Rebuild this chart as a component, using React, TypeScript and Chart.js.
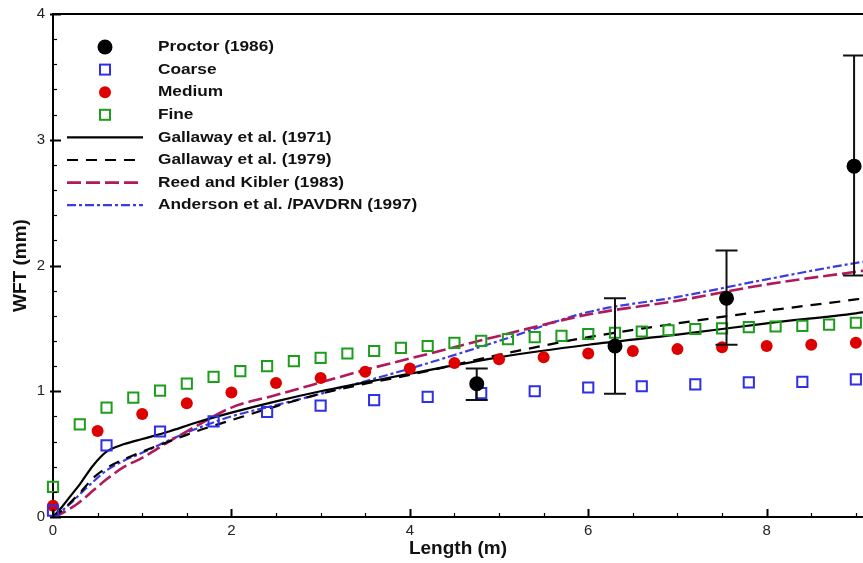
import React, { useEffect, useRef } from "react";
import { Chart, registerables } from "chart.js";

Chart.register(...registerables);

const FONT = '"Liberation Sans", Arial, Helvetica, sans-serif';

// Axes
const X_MIN = 0;
const X_MAX = 9.08;
const Y_MIN = 0;
const Y_MAX = 4;
const X_TICKS = [0, 2, 4, 6, 8];
const Y_TICKS = [0, 1, 2, 3, 4];
const X_MINOR_STEP = 0.5;
const Y_MINOR_STEP = 0.2;

// Proctor (1986) measurements with error bars
const PROCTOR_X = [4.75, 6.3, 7.55, 8.98];
const PROCTOR_Y = [1.06, 1.36, 1.74, 2.79];
const PROCTOR_LOW = [0.93, 0.98, 1.37, 1.92];
const PROCTOR_HIGH = [1.18, 1.74, 2.12, 3.67];

// Coarse
const COARSE_X = [0, 0.6, 1.2, 1.8, 2.4, 3.0, 3.6, 4.2, 4.8, 5.4, 6.0, 6.6, 7.2, 7.8, 8.4, 9.0];
const COARSE_Y = [0.05, 0.57, 0.68, 0.76, 0.835, 0.885, 0.93, 0.955, 0.985, 1.0, 1.03, 1.04, 1.055, 1.07, 1.075, 1.095];

// Medium
const MEDIUM_X = [0, 0.5, 1.0, 1.5, 2.0, 2.5, 3.0, 3.5, 4.0, 4.5, 5.0, 5.5, 6.0, 6.5, 7.0, 7.5, 8.0, 8.5, 9.0];
const MEDIUM_Y = [0.09, 0.683, 0.82, 0.905, 0.99, 1.065, 1.105, 1.155, 1.18, 1.225, 1.255, 1.27, 1.3, 1.32, 1.335, 1.35, 1.36, 1.37, 1.385];

// Fine
const FINE_X = [0, 0.3, 0.6, 0.9, 1.2, 1.5, 1.8, 2.1, 2.4, 2.7, 3.0, 3.3, 3.6, 3.9, 4.2, 4.5, 4.8, 5.1, 5.4, 5.7, 6.0, 6.3, 6.6, 6.9, 7.2, 7.5, 7.8, 8.1, 8.4, 8.7, 9.0];
const FINE_Y = [0.24, 0.737, 0.87, 0.95, 1.005, 1.06, 1.115, 1.16, 1.2, 1.24, 1.265, 1.3, 1.32, 1.345, 1.36, 1.385, 1.4, 1.415, 1.43, 1.44, 1.455, 1.465, 1.475, 1.485, 1.495, 1.5, 1.51, 1.515, 1.52, 1.53, 1.545];

// Model curves
const CURVE_X = [0, 0.1, 0.2, 0.3, 0.45, 0.6, 0.8, 1.0, 1.3, 1.6, 2.0, 2.5, 3.0, 3.5, 4.0, 5.0, 6.0, 7.0, 8.0, 9.0, 9.1];
const GALLAWAY_1971 = [0, 0.08, 0.17, 0.26, 0.41, 0.52, 0.58, 0.62, 0.68, 0.75, 0.83, 0.92, 1.0, 1.07, 1.14, 1.27, 1.37, 1.45, 1.54, 1.62, 1.63];
const GALLAWAY_1979 = [0, 0.05, 0.12, 0.19, 0.31, 0.39, 0.46, 0.52, 0.6, 0.68, 0.77, 0.88, 0.98, 1.06, 1.13, 1.29, 1.43, 1.54, 1.64, 1.73, 1.74];
const REED_KIBLER = [0, 0.03, 0.07, 0.12, 0.21, 0.3, 0.4, 0.47, 0.6, 0.72, 0.87, 0.97, 1.07, 1.17, 1.26, 1.44, 1.61, 1.72, 1.85, 1.95, 1.96];
const ANDERSON = [0, 0.05, 0.11, 0.18, 0.28, 0.37, 0.45, 0.51, 0.61, 0.7, 0.8, 0.89, 0.98, 1.08, 1.18, 1.4, 1.63, 1.75, 1.89, 2.02, 2.03];

const LABELS = [
  "Proctor (1986)",
  "Coarse",
  "Medium",
  "Fine",
  "Gallaway et al. (1971)",
  "Gallaway et al. (1979)",
  "Reed and Kibler (1983)",
  "Anderson et al. /PAVDRN (1997)",
];

const C_BLACK = "#000000";
const C_BLUE_SQ = "#2f2fe6";
const C_RED = "#dd0000";
const C_GREEN = "#1c9e1c";
const C_CRIMSON = "#b0195a";
const C_BLUE_LINE = "#3b3be4";

function pts(xs: number[], ys: number[]) {
  return xs.map((x, i) => ({ x, y: ys[i] }));
}

const framePlugin = {
  id: "frame",
  afterDraw(chart: any) {
    const { ctx, chartArea, scales } = chart;
    const xs = scales.x;
    const ys = scales.y;
    ctx.save();
    ctx.strokeStyle = "#000";
    ctx.lineWidth = 2;
    ctx.beginPath();
    ctx.moveTo(chartArea.left, chartArea.top);
    ctx.lineTo(chart.width, chartArea.top);
    ctx.stroke();
    for (let k = 0; X_MIN + k * X_MINOR_STEP <= X_MAX + 1e-9; k++) {
      const v = X_MIN + k * X_MINOR_STEP;
      const major = X_TICKS.some((t) => Math.abs(t - v) < 1e-6);
      const px = Math.round(xs.getPixelForValue(v)) + 0.5;
      ctx.lineWidth = major ? 2 : 1.2;
      ctx.beginPath();
      ctx.moveTo(px, chartArea.bottom);
      ctx.lineTo(px, chartArea.bottom - (major ? 8 : 4));
      ctx.stroke();
    }
    for (let k = 0; Y_MIN + k * Y_MINOR_STEP <= Y_MAX + 1e-9; k++) {
      const v = Y_MIN + k * Y_MINOR_STEP;
      const major = Y_TICKS.some((t) => Math.abs(t - v) < 1e-6);
      const py = Math.round(ys.getPixelForValue(v)) + 0.5;
      ctx.lineWidth = major ? 2 : 1.2;
      ctx.beginPath();
      ctx.moveTo(chartArea.left - (major ? 3 : 0), py);
      ctx.lineTo(chartArea.left + (major ? 8 : 4), py);
      ctx.stroke();
    }
    ctx.restore();
  },
};

const errorBarPlugin = {
  id: "errorBars",
  beforeDatasetDraw(chart: any, args: any) {
    if (args.index !== 0) return;
    const { ctx, scales } = chart;
    ctx.save();
    ctx.strokeStyle = "#111";
    ctx.lineWidth = 2;
    PROCTOR_X.forEach((xv, i) => {
      const px = scales.x.getPixelForValue(xv);
      const pLo = scales.y.getPixelForValue(PROCTOR_LOW[i]);
      const pHi = scales.y.getPixelForValue(PROCTOR_HIGH[i]);
      const cap = 11;
      ctx.beginPath();
      ctx.moveTo(px, pLo);
      ctx.lineTo(px, pHi);
      ctx.moveTo(px - cap, pLo);
      ctx.lineTo(px + cap, pLo);
      ctx.moveTo(px - cap, pHi);
      ctx.lineTo(px + cap, pHi);
      ctx.stroke();
    });
    ctx.restore();
  },
};

const legendPlugin = {
  id: "customLegend",
  afterDraw(chart: any) {
    const { ctx } = chart;
    const rowY0 = 47;
    const rowH = 22.6;
    const markX = 105;
    const lineX0 = 67;
    const lineX1 = 143;
    const textX = 158;
    ctx.save();
    chart.data.datasets.forEach((ds: any, i: number) => {
      const y = rowY0 + i * rowH;
      if (ds.showLine) {
        ctx.strokeStyle = ds.borderColor;
        ctx.lineWidth = ds.borderWidth;
        ctx.setLineDash(ds.borderDash || []);
        ctx.beginPath();
        ctx.moveTo(lineX0, y);
        ctx.lineTo(lineX1, y);
        ctx.stroke();
        ctx.setLineDash([]);
      } else if (ds.pointStyle === "rect") {
        ctx.strokeStyle = ds.pointBorderColor;
        ctx.lineWidth = 2;
        ctx.strokeRect(markX - 5, y - 5, 10, 10);
      } else {
        ctx.fillStyle = ds.pointBackgroundColor;
        ctx.beginPath();
        ctx.arc(markX, y, ds.pointRadius, 0, Math.PI * 2);
        ctx.fill();
      }
      ctx.save();
      ctx.translate(textX, y);
      ctx.scale(1.15, 1);
      ctx.fillStyle = "#111";
      ctx.font = `bold 15px ${FONT}`;
      ctx.textBaseline = "middle";
      ctx.textAlign = "left";
      ctx.fillText(ds.label, 0, 0);
      ctx.restore();
    });
    ctx.restore();
  },
};

export default function App() {
  const ref = useRef<HTMLCanvasElement | null>(null);

  useEffect(() => {
    if (!ref.current) return;
    Chart.defaults.font.family = FONT;
    const scatterBase = { showLine: false, clip: false as any };
    const lineBase = {
      showLine: true,
      pointRadius: 0,
      fill: false,
      cubicInterpolationMode: "monotone" as const,
      clip: false as any,
    };
    const chart = new Chart(ref.current, {
      type: "scatter",
      data: {
        datasets: [
          {
            ...scatterBase,
            label: LABELS[0],
            data: pts(PROCTOR_X, PROCTOR_Y),
            pointStyle: "circle",
            pointRadius: 7.5,
            pointBackgroundColor: C_BLACK,
            pointBorderColor: C_BLACK,
            pointBorderWidth: 0,
          } as any,
          {
            ...scatterBase,
            label: LABELS[1],
            data: pts(COARSE_X, COARSE_Y),
            pointStyle: "rect",
            pointRadius: 7.2,
            pointBackgroundColor: "rgba(0,0,0,0)",
            pointBorderColor: C_BLUE_SQ,
            pointBorderWidth: 2,
          },
          {
            ...scatterBase,
            label: LABELS[2],
            data: pts(MEDIUM_X, MEDIUM_Y),
            pointStyle: "circle",
            pointRadius: 6,
            pointBackgroundColor: C_RED,
            pointBorderColor: C_RED,
            pointBorderWidth: 0,
          },
          {
            ...scatterBase,
            label: LABELS[3],
            data: pts(FINE_X, FINE_Y),
            pointStyle: "rect",
            pointRadius: 7.2,
            pointBackgroundColor: "rgba(0,0,0,0)",
            pointBorderColor: C_GREEN,
            pointBorderWidth: 2,
          },
          {
            ...lineBase,
            label: LABELS[4],
            data: pts(CURVE_X, GALLAWAY_1971),
            borderColor: C_BLACK,
            borderWidth: 2.2,
          },
          {
            ...lineBase,
            label: LABELS[5],
            data: pts(CURVE_X, GALLAWAY_1979),
            borderColor: C_BLACK,
            borderWidth: 2.2,
            borderDash: [11, 8],
          },
          {
            ...lineBase,
            label: LABELS[6],
            data: pts(CURVE_X, REED_KIBLER),
            borderColor: C_CRIMSON,
            borderWidth: 2.6,
            borderDash: [14, 5],
          },
          {
            ...lineBase,
            label: LABELS[7],
            data: pts(CURVE_X, ANDERSON),
            borderColor: C_BLUE_LINE,
            borderWidth: 2.2,
            borderDash: [9, 3, 3, 3],
          },
        ],
      },
      options: {
        responsive: false,
        animation: false,
        events: [],
        layout: { autoPadding: false, padding: { top: 14, right: 0, left: 0, bottom: 0 } },
        plugins: {
          legend: { display: false },
          tooltip: { enabled: false },
          title: { display: false },
        },
        scales: {
          x: {
            type: "linear",
            min: X_MIN,
            max: X_MAX,
            afterBuildTicks: (s: any) => {
              s.ticks = X_TICKS.map((v) => ({ value: v }));
            },
            afterFit: (s: any) => {
              s.height = 46;
              s.paddingLeft = 0;
              s.paddingRight = 0;
            },
            grid: { display: false, drawTicks: false },
            border: { display: true, color: "#000", width: 2 },
            ticks: {
              color: "#222",
              font: { family: FONT, size: 15 },
              padding: 5,
              maxRotation: 0,
              autoSkip: false,
            },
            title: {
              display: true,
              text: "Length (m)",
              color: "#111",
              font: { family: FONT, size: 19, weight: "bold" },
              padding: { top: 0, bottom: 3 },
            },
          },
          y: {
            type: "linear",
            min: Y_MIN,
            max: Y_MAX,
            afterBuildTicks: (s: any) => {
              s.ticks = Y_TICKS.map((v) => ({ value: v }));
            },
            afterFit: (s: any) => {
              s.width = 53;
              s.paddingTop = 0;
              s.paddingBottom = 0;
            },
            grid: { display: false, drawTicks: false },
            border: { display: true, color: "#000", width: 2 },
            ticks: {
              color: "#222",
              font: { family: FONT, size: 15 },
              padding: 8,
              autoSkip: false,
            },
            title: {
              display: true,
              text: "WFT (mm)",
              color: "#111",
              font: { family: FONT, size: 19, weight: "bold" },
              padding: { top: 9, bottom: 0 },
            },
          },
        },
      },
      plugins: [framePlugin, errorBarPlugin, legendPlugin],
    });
    return () => chart.destroy();
  }, []);

  return (
    <div style={{ position: "fixed", left: 0, top: 0, width: 863, height: 563, background: "#fff" }}>
      <canvas ref={ref} width={863} height={563} style={{ display: "block", width: 863, height: 563 }} />
    </div>
  );
}
